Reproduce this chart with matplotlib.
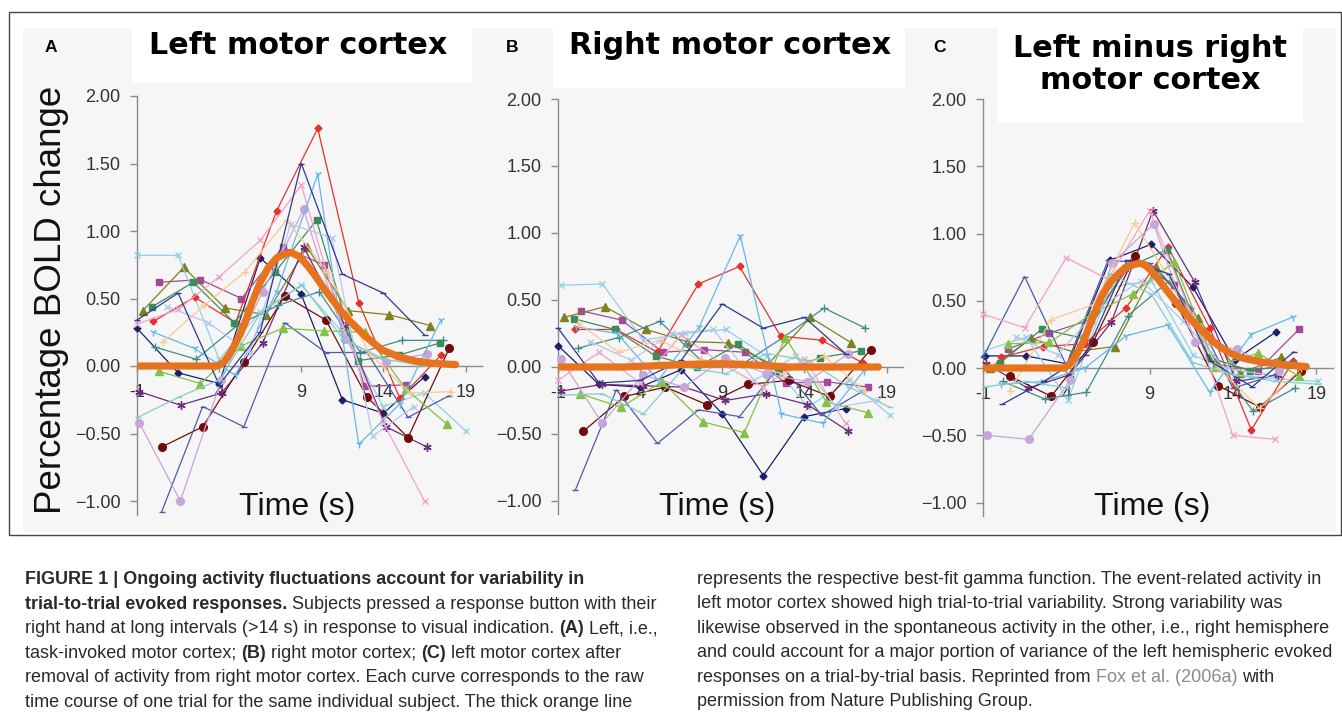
import matplotlib
matplotlib.use("Agg")
import matplotlib.pyplot as plt
from matplotlib import font_manager
from matplotlib.patches import Rectangle

W, H = 1342, 722

# seconds between two samples of one trial
STEP = 2.5

# trial styles, same order in every panel
trial_colors = ["#1b1f6b", "#a5479a", "#7f8020", "#8fd0ec", "#6b2c7d", "#720c0c",
                "#4c5cab", "#3f8c8c", "#e5322b", "#3b8c5c", "#82c244", "#f3a2c4",
                "#c6a6d9", "#64b7ec", "#f9c98f", "#b6c6ee", "#2b3c8c", "#86cccc"]
trial_markers = ["D", "s", "^", "x", (6, 2, 0), "o",
                 "_", "+", "D", "s", "^", "x",
                 "o", "1", "+", "x", "_", "_"]
trial_msizes = [3.5, 5, 5.5, 5, 6, 5.5, 5, 6, 3.5, 5, 5.5, 5, 5.5, 6, 6, 5, 5, 5]

# panel A: left motor cortex (time of first sample, then samples)
a_start = [-1.0, 0.36, -0.65, -1.0, -0.85, 0.5, 0.5, 0.1, 0.0,
           -0.07, 0.36, -1.0, -0.86, 0.0, 0.6, 0.85, -1.0, -0.95]
a_values = [
    [0.28, -0.05, -0.13, 0.80, 0.53, -0.25, -0.35, -0.08],
    [0.62, 0.64, 0.50, 0.88, 0.75, -0.15, -0.14],
    [0.41, 0.73, 0.43, 0.38, 0.88, 0.41, 0.38, 0.30],
    [0.82, 0.82, 0.05, 0.40, 0.60, 0.25, -0.30, -0.20, -0.48],
    [-0.19, -0.29, -0.20, 0.17, 0.88, 0.30, -0.45, -0.60],
    [-0.60, -0.45, 0.03, 0.52, 0.34, -0.23, -0.53, 0.13],
    [-1.08, -0.30, -0.45, 0.32, 0.10, 0.10, -0.38, -0.22],
    [0.14, 0.05, 0.30, 0.45, 0.55, 0.10, 0.19, 0.19],
    [0.33, 0.51, 0.32, 1.15, 1.76, 0.47, -0.24, 0.08],
    [0.44, 0.62, 0.32, 0.70, 1.08, 0.04, 0.08, 0.17],
    [-0.04, -0.13, 0.15, 0.28, 0.26, 0.25, -0.17, -0.43],
    [0.31, 0.42, 0.66, 0.93, 1.34, 0.30, -0.42, -1.00],
    [-0.42, -1.00, -0.10, 0.55, 1.16, 0.20, 0.03, 0.09],
    [0.25, 0.13, -0.07, 0.55, 1.42, -0.58, -0.28, 0.34],
    [0.18, 0.45, 0.70, 1.08, 0.70, 0.10, -0.20, -0.19],
    [0.44, 0.32, 0.10, 1.05, 0.95, -0.52, -0.30],
    [0.34, 0.54, -0.14, 0.25, 1.50, 0.68, 0.54, 0.23],
    [-0.38, -0.23, -0.10, 0.40, 0.60, 0.20, 0.05, 0.00],
]
a_fit_t = [-1.0, 3.9, 4.3, 4.7, 5.0, 5.3, 5.6, 6.0, 6.5, 7.0, 7.5, 8.0, 8.4, 8.9, 9.4,
           9.9, 10.4, 10.9, 11.4, 11.9, 12.4, 12.9, 13.4, 13.9, 14.5, 15.0, 16.0, 17.0, 18.4]
a_fit_v = [0.0, 0.0, 0.03, 0.10, 0.17, 0.24, 0.33, 0.47, 0.62, 0.73, 0.80, 0.83, 0.84, 0.81, 0.74,
           0.66, 0.57, 0.49, 0.41, 0.34, 0.28, 0.22, 0.17, 0.12, 0.09, 0.065, 0.035, 0.02, 0.01]

# panel B: right motor cortex
b_start = [-1.0, 0.38, -0.64, -0.8, -0.82, 0.54, 0.05, 0.2, 0.05,
           -0.03, 0.34, -1.0, -0.82, 0.1, 0.2, 0.95, -1.0, -0.8]
b_values = [
    [0.16, -0.13, -0.15, -0.02, -0.35, -0.81, -0.37, -0.31],
    [0.42, 0.35, 0.11, 0.13, 0.11, -0.12, -0.11, -0.15],
    [0.37, 0.45, 0.28, 0.19, 0.18, 0.03, 0.37, 0.18],
    [0.61, 0.62, 0.20, 0.25, 0.28, 0.08, -0.30, -0.10, -0.36],
    [-0.18, -0.13, -0.14, -0.15, -0.25, -0.20, -0.28, -0.48],
    [-0.48, -0.22, -0.15, -0.28, -0.13, -0.10, -0.22, 0.13],
    [-0.92, -0.17, -0.57, -0.32, -0.37, 0.02, -0.36, -0.18],
    [0.14, 0.22, 0.34, 0.05, 0.02, 0.22, 0.44, 0.29],
    [0.28, 0.28, 0.11, 0.62, 0.75, 0.23, 0.20, 0.03],
    [0.36, 0.28, 0.08, 0.00, 0.17, -0.04, 0.07, 0.12],
    [-0.20, -0.30, -0.11, -0.41, -0.49, 0.22, -0.26, -0.34],
    [-0.10, 0.11, -0.12, 0.24, 0.02, -0.15, 0.06, -0.42],
    [0.06, -0.42, -0.06, -0.15, 0.07, -0.05, -0.11, 0.10],
    [0.30, 0.25, -0.10, 0.30, 0.98, -0.35, -0.42, -0.03],
    [0.33, 0.11, 0.20, 0.05, 0.03, -0.05, 0.08, -0.18],
    [0.19, 0.05, 0.25, 0.28, -0.10, 0.08, -0.30, -0.25],
    [0.29, -0.12, -0.10, 0.05, 0.47, 0.29, 0.37, 0.10],
    [-0.21, -0.20, -0.35, 0.00, -0.05, 0.10, 0.05, -0.15, -0.30],
]
b_fit_t = [-1.0, 3.0, 5.0, 7.0, 9.0, 11.0, 13.0, 18.5]
b_fit_v = [0.0, 0.0, 0.01, 0.02, 0.025, 0.015, 0.0, 0.0]

# panel C: left minus right motor cortex
c_start = [-0.9, 0.48, -0.6, -0.9, -0.8, 0.6, -1.0, 0.2, 0.1,
           0.04, 0.48, -1.0, -0.76, 0.1, 0.6, 1.0, 0.15, -0.9]
c_values = [
    [0.09, 0.09, 0.03, 0.80, 0.92, 0.60, 0.06, 0.27],
    [0.14, 0.26, 0.36, 0.79, 0.62, 0.03, -0.02, 0.29],
    [0.00, 0.22, 0.12, 0.16, 0.75, 0.37, -0.04, 0.08],
    [0.13, 0.23, -0.24, 0.60, 0.65, 0.10, -0.05, -0.08, -0.10],
    [0.03, -0.15, -0.05, 0.34, 1.17, 0.64, -0.10, -0.05],
    [-0.06, -0.21, 0.19, 0.83, 0.48, -0.13, -0.29, -0.02],
    [0.08, 0.68, 0.02, 0.80, 0.78, 0.45, -0.15, -0.05],
    [-0.10, -0.23, -0.18, 0.39, 0.65, 0.10, -0.32, -0.15],
    [0.08, 0.16, 0.18, 0.45, 0.90, 0.30, -0.46, 0.05],
    [0.04, 0.29, 0.22, 0.74, 0.88, 0.08, -0.02, 0.03],
    [0.18, 0.19, 0.40, 0.55, 0.79, 0.01, 0.11, -0.06],
    [0.40, 0.30, 0.82, 0.66, 1.17, 0.40, -0.50, -0.53],
    [-0.50, -0.53, -0.09, 0.78, 1.07, 0.19, 0.14, -0.02],
    [-0.12, -0.10, 0.00, 0.24, 0.32, -0.18, 0.25, 0.38],
    [-0.17, 0.36, 0.47, 1.08, 0.58, 0.00, -0.30, 0.00],
    [0.23, 0.10, 0.45, 0.65, 0.35, 0.00, -0.05],
    [-0.27, -0.10, 0.10, 0.80, 0.70, 0.05, -0.14, 0.12],
    [-0.14, -0.10, -0.15, 0.70, 0.55, 0.04, -0.05, -0.10, -0.12],
]
c_fit_t = [-1.0, 3.9, 4.3, 4.7, 5.1, 5.6, 6.1, 6.6, 7.1, 7.6, 8.1, 8.4, 8.7, 9.2, 9.7,
           10.2, 10.7, 11.2, 11.7, 12.2, 12.7, 13.2, 13.7, 14.2, 14.7, 15.7, 16.7, 18.4]
c_fit_v = [0.0, 0.0, 0.04, 0.12, 0.22, 0.38, 0.53, 0.63, 0.70, 0.75, 0.77, 0.78, 0.77, 0.71, 0.63,
           0.55, 0.47, 0.40, 0.33, 0.27, 0.21, 0.16, 0.12, 0.09, 0.07, 0.045, 0.03, 0.01]

titles = ["Left motor cortex", "Right motor cortex", "Left minus right\nmotor cortex"]
letters = ["A", "B", "C"]

y_ticks = [-1.0, -0.5, 0.0, 0.5, 1.0, 1.5, 2.0]
y_tick_labels = ["\u22121.00", "\u22120.50", "0.00", "0.50", "1.00", "1.50", "2.00"]
x_ticks = [-1, 4, 9, 14, 19]
x_tick_labels = ["-1", "4", "9", "14", "19"]

ORANGE = "#e8731f"
AXIS_GREY = "#8c8c8c"
TEXT_DARK = "#2a2a2a"

# caption font: a narrow sans if there is one
installed = {f.name for f in font_manager.fontManager.ttflist}
CAP_FONT = "Liberation Sans Narrow" if "Liberation Sans Narrow" in installed else "Liberation Sans"
CAP_SIZE = 15.3 if CAP_FONT == "Liberation Sans Narrow" else 13.0


def fx(x):
    return x / W


def fy(y):
    return 1 - y / H


fig = plt.figure(figsize=(W / 100, H / 100), dpi=100)
fig.patch.set_facecolor("white")

# frame and light grey panel background (behind the axes)
fig.add_artist(Rectangle((fx(9), fy(535)), fx(1341) - fx(9), fy(12) - fy(535),
                         transform=fig.transFigure, fill=False, ec="#444444", lw=1.0,
                         zorder=-3))
fig.add_artist(Rectangle((fx(23), fy(532)), fx(1336) - fx(23), fy(28) - fy(532),
                         transform=fig.transFigure, fc="#f6f6f6", ec="none", zorder=-2))

# pixel boxes of the plot areas: left, top, right, bottom
boxes = [(137, 96, 482, 514.5), (558, 99, 903, 514.4), (983, 99, 1333, 516)]
title_boxes = [(132, 28, 472, 82), (553, 28, 905, 88), (998, 28, 1303, 123)]
title_pos = [(298, 45), (730, 45), (1150, 64.5)]
letter_pos = [(51, 48), (512, 47), (940, 48)]
time_pos = [(297, 507), (717, 507), (1152, 507)]
title_sizes = [21.7, 21.8, 21.8]

panels = [(a_start, a_values, a_fit_t, a_fit_v),
          (b_start, b_values, b_fit_t, b_fit_v),
          (c_start, c_values, c_fit_t, c_fit_v)]

for p, (starts, values, fit_t, fit_v) in enumerate(panels):
    # white box behind the title
    tl, tt, tr, tb = title_boxes[p]
    fig.add_artist(Rectangle((fx(tl), fy(tb)), fx(tr) - fx(tl), fy(tt) - fy(tb),
                             transform=fig.transFigure, fc="white", ec="none", zorder=-1))

    l, t, r, b = boxes[p]
    ax = fig.add_axes([fx(l), fy(b), fx(r) - fx(l), fy(t) - fy(b)])
    ax.set_facecolor("none")
    ax.set_xlim(-1, 20)
    ax.set_ylim(-1.1, 2.0)

    for i, (t0, vals) in enumerate(zip(starts, values)):
        ts = [t0 + k * STEP for k in range(len(vals))]
        ax.plot(ts, vals, color=trial_colors[i], marker=trial_markers[i],
                ms=trial_msizes[i], mew=1.0, lw=0.9, zorder=3, clip_on=False)
    ax.plot(fit_t, fit_v, color=ORANGE, lw=5.2, solid_capstyle="round", zorder=6)

    for side in ["top", "right"]:
        ax.spines[side].set_visible(False)
    ax.spines["bottom"].set_position(("data", 0))
    for side in ["left", "bottom"]:
        ax.spines[side].set_color(AXIS_GREY)
        ax.spines[side].set_linewidth(1.0)

    ax.set_yticks(y_ticks)
    ax.set_yticklabels(y_tick_labels, family="Liberation Sans", fontsize=13, color="#333333")
    ax.set_xticks(x_ticks)
    ax.set_xticklabels(x_tick_labels, family="Liberation Sans", fontsize=13, color="#333333")
    ax.tick_params(axis="y", direction="out", length=5, width=1, color=AXIS_GREY, pad=7)
    ax.tick_params(axis="x", direction="out", length=4, width=1, color=AXIS_GREY, pad=9)

    fig.text(fx(title_pos[p][0]), fy(title_pos[p][1]), titles[p], family="DejaVu Sans",
             fontweight="bold", fontsize=title_sizes[p], ha="center", va="center",
             linespacing=1.15, color="black")
    fig.text(fx(letter_pos[p][0]), fy(letter_pos[p][1]), letters[p], family="Liberation Sans",
             fontweight="bold", fontsize=12.5, ha="center", va="center", color="black")
    fig.text(fx(time_pos[p][0]), fy(time_pos[p][1]), "Time (s)", family="Liberation Sans",
             fontsize=23, ha="center", va="center", color="#111111")

fig.text(fx(52), fy(300), "Percentage BOLD change", family="Liberation Sans", fontsize=26.5,
         rotation=90, ha="center", va="center", color="#111111")

# caption, two columns; each run is placed after the width of the runs before it
N, B, G = "normal", "bold", "grey"
left_lines = [
    [("FIGURE 1 | Ongoing activity fluctuations account for variability in", B)],
    [("trial-to-trial evoked responses.", B), ("Subjects pressed a response button with their", N)],
    [("right hand at long intervals (>14 s) in response to visual indication.", N), ("(A)", B),
     ("Left, i.e.,", N)],
    [("task-invoked motor cortex;", N), ("(B)", B), ("right motor cortex;", N), ("(C)", B),
     ("left motor cortex after", N)],
    [("removal of activity from right motor cortex. Each curve corresponds to the raw", N)],
    [("time course of one trial for the same individual subject. The thick orange line", N)],
]
right_lines = [
    [("represents the respective best-fit gamma function. The event-related activity in", N)],
    [("left motor cortex showed high trial-to-trial variability. Strong variability was", N)],
    [("likewise observed in the spontaneous activity in the other, i.e., right hemisphere", N)],
    [("and could account for a major portion of variance of the left hemispheric evoked", N)],
    [("responses on a trial-by-trial basis. Reprinted from", N), ("Fox et al. (2006a)", G),
     ("with", N)],
    [("permission from Nature Publishing Group.", N)],
]
left_baselines = [584, 609, 633, 658, 682, 707]
right_baselines = [584, 608, 633, 657, 682, 706]

renderer = fig.canvas.get_renderer()


def text_width(s, weight):
    t = fig.text(0, 0, s, family=CAP_FONT, fontsize=CAP_SIZE, fontweight=weight)
    w = t.get_window_extent(renderer).width
    t.remove()
    return w


def draw_line(x, y, runs):
    for chunk, style in runs:
        weight = "bold" if style == B else "normal"
        color = "#8a8a8a" if style == G else TEXT_DARK
        fig.text(fx(x), fy(y), chunk, family=CAP_FONT, fontsize=CAP_SIZE,
                 fontweight=weight, color=color, ha="left", va="baseline")
        # advance by the run plus one space
        x += text_width(chunk + " n", weight) - text_width("n", weight)


for runs, yb in zip(left_lines, left_baselines):
    draw_line(25, yb, runs)
for runs, yb in zip(right_lines, right_baselines):
    draw_line(697, yb, runs)

fig.savefig("out.png", dpi=100, facecolor="white")
